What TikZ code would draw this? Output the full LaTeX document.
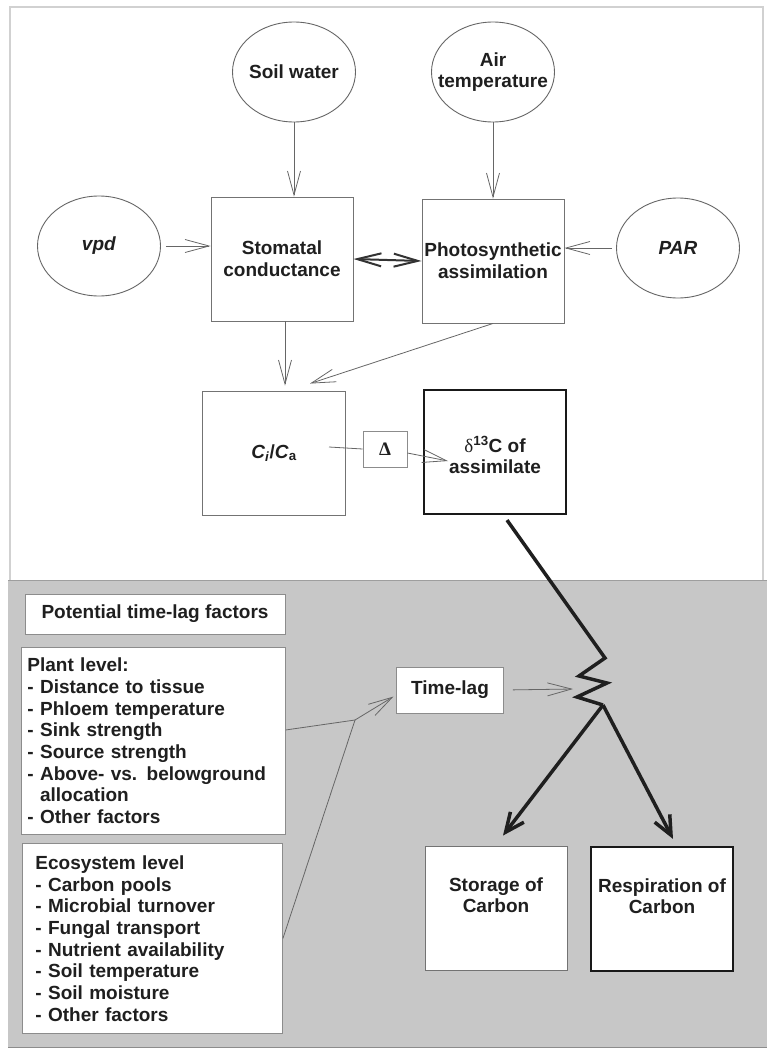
\documentclass[tikz,border=0pt]{standalone}
\usepackage{fontspec}
\setmainfont{Liberation Sans}
\newfontfamily\symfont{Liberation Serif}
\usetikzlibrary{shapes.geometric,arrows.meta}

\begin{document}
\begin{tikzpicture}[x=1pt,y=-1pt,>={Straight Barb[length=24pt,width=13pt]},
  font=\fontsize{19}{21.7}\selectfont\bfseries, text=black!88,
  factor/.style={ellipse,draw=black!60,line width=0.9pt,fill=white,minimum width=123pt,minimum height=100pt,inner sep=-22pt,align=center},
  process/.style={rectangle,draw=black!55,line width=0.9pt,fill=white,minimum width=142pt,minimum height=124pt,inner sep=0pt,align=center},
  result/.style={process,draw=black!90,line width=2.2pt},
  listbox/.style={rectangle,draw=black!45,line width=0.9pt,fill=white,inner sep=0pt},
  flow/.style={->,draw=black!60,line width=0.8pt},
  carbon/.style={draw=black!88,line width=3.5pt,line join=miter},
  bigtip/.style={-{Straight Barb[length=19pt,width=17pt]}}]
\useasboundingbox (0,0) rectangle (769,1049);

%frame and grey panel
\draw [draw=black!18, line width=1.6pt] (10,7) rectangle (763,1046);
\fill [black!22] (8,580) rectangle (767,1047);
\draw [draw=black!38, line width=1pt] (8,580)--(767,580);
\draw [draw=black!45, line width=1pt] (8,1047)--(767,1047);

%drivers
\node[factor] (soil) at (294,72)  {Soil water};
\node[factor] (air)  at (493,72)  {Air\\temperature};
\node[factor] (vpd)  at (99,246)  {\textit{vpd}};
\node[factor] (par)  at (678,248) {\textit{PAR}};

%leaf processes
\node[process] (stom)  at (282,259) {Stomatal\\conductance};
\node[process] (photo) at (493,261) {Photosynthetic\\assimilation};
\node[process, minimum width=143pt] (ratio) at (274,453) {\textit{C}\textsubscript{\textit{i}}/\textit{C}\textsubscript{a}};
\node[listbox, minimum width=44pt, minimum height=36pt] (disc) at (385,449) {{\symfont Δ}};
\node[result, text height=44pt] (delta) at (495,452) {{\symfont\mdseries δ}\textsuperscript{13}C of\\assimilate};

%time-lag panel
\node[listbox, minimum width=260pt, minimum height=40pt] (title) at (155,614) {Potential time-lag factors};
\node[listbox, anchor=north west, minimum height=187pt, text width=252pt, inner xsep=6pt, align=left] (plant) at (21,647)
  {Plant level:\\- Distance to tissue\\- Phloem temperature\\- Sink strength\\- Source strength\\- Above- vs. belowground\\\phantom{- }allocation\\- Other factors};
\node[listbox, anchor=north west, minimum height=190pt, text width=234pt, inner xsep=13pt, align=left] (eco) at (22,843)
  {Ecosystem level\\- Carbon pools\\- Microbial turnover\\- Fungal transport\\- Nutrient availability\\- Soil temperature\\- Soil moisture\\- Other factors};
\node[listbox, minimum width=107pt, minimum height=46pt] (lag) at (450,690) {Time-lag};
\node[process, text depth=26pt] (store) at (496,908) {Storage of\\Carbon};
\node[result, text depth=26pt]  (resp)  at (662,909) {Respiration of\\Carbon};

%zigzag
\coordinate (z1) at (605,658);
\coordinate (z2) at (579,676);
\coordinate (z3) at (607,683);
\coordinate (z4) at (577,697);
\coordinate (z5) at (603,705);
\coordinate (lagtip) at (573,689);
\coordinate (join) at (355,720);

%thin arrows, top
\draw [flow] (soil.south)--(soil.south |- stom.north);	%soil--stom
\draw [flow] (air.south)--(air.south |- photo.north);	%air--photo
\draw [flow, shorten <=5pt] (vpd.east)--(vpd.east -| stom.west);	%vpd--stom
\draw [flow, shorten <=4pt] (par.west)--(par.west -| photo.east);	%par--photo
\draw [<->, draw=black!80, line width=2pt] (stom.east)--(photo.west);	%stom--photo
\draw [flow, shorten >=5pt] ([xshift=3pt]stom.south)--([xshift=3pt]stom.south |- ratio.north);	%stom--ratio
\draw [flow] (photo.south)--([xshift=36pt,yshift=7pt]ratio.north);	%photo--ratio
\draw [draw=black!60, line width=0.8pt] ([xshift=55pt,yshift=6pt]ratio.center)--(disc.west);	%ratio--disc
\draw [flow] ([yshift=-4pt]disc.east)--([xshift=-47pt,yshift=-9pt]delta.center);	%disc--delta

%thick carbon path
\draw [carbon] ([xshift=12pt,yshift=-5pt]delta.south)--(z1)--(z2)--(z3)--(z4)--(z5);
\draw [carbon, bigtip] (z5)--([xshift=7pt,yshift=10pt]store.north);	%to storage
\draw [carbon, bigtip] (z5)--([xshift=11pt,yshift=7pt]resp.north);	%to respiration

%time-lag arrows
\draw [flow, shorten <=9pt] (lag.east)--(lagtip);	%lag--zigzag
\draw [draw=black!60, line width=0.8pt] ([yshift=11pt]plant.east)--(join);	%plant--join
\draw [draw=black!60, line width=0.8pt] (eco.east)--(join);	%eco--join
\draw [flow, shorten >=3pt] (join)--([yshift=-5pt]lag.west);	%join--lag

\end{tikzpicture}
\end{document}
